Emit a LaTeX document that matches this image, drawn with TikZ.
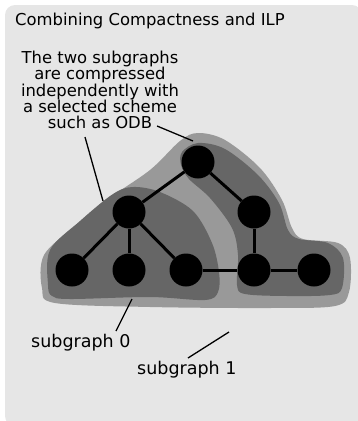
\documentclass[tikz,border=0pt]{standalone}
\usepackage{fontspec}
\setmainfont{DejaVu Sans}
\usepackage{xcolor}
\usetikzlibrary{positioning}
\definecolor{panel}{HTML}{E6E6E6}
\definecolor{hull}{HTML}{999999}
\definecolor{subfill}{HTML}{666666}

\begin{document}
\begin{tikzpicture}
  [x=1pt,y=-1pt,
   vertex/.style={circle,fill=black,inner sep=0pt,minimum size=33pt},
   edge/.style={line width=3pt},
   pointer/.style={line width=1.3pt},
   tag/.style={inner sep=0pt,font=\fontsize{17.5}{19}\selectfont}]
\useasboundingbox (0,0) rectangle (357,421);
\fill[panel,rounded corners=10pt] (5,5) rectangle (362,426);
\node[anchor=base west,inner sep=0pt,font=\fontsize{16.4}{18}\selectfont] (title) at (15,25) {Combining Compactness and ILP};
% the hull round both subgraphs
\fill[hull] plot[smooth cycle,tension=0.55] coordinates {
  (42,288) (44,255) (75,226) (105,201) (150,170) (180,141) (198,133)
  (225,140) (260,168) (282,200) (292,228) (303,239) (338,243) (350,258)
  (349,292) (335,306) (270,308) (150,307) (55,303)};
% subgraph 0
\fill[subfill] plot[smooth cycle,tension=0.55] coordinates {
  (48,285) (50,250) (80,221) (113,194) (133,187) (160,192) (193,211)
  (212,243) (219,272) (218,292) (205,300) (150,297) (70,299) (52,296)};
% subgraph 1
\fill[subfill] plot[smooth cycle,tension=0.55] coordinates {
  (182,152) (198,143) (225,149) (258,175) (279,203) (288,230) (299,239)
  (328,243) (343,258) (342,288) (330,295) (287,296) (245,294) (237,285)
  (238,255) (232,228) (210,198) (189,179) (181,165)};
% vertices
\node[vertex] (t) at (198,162) {};
\node[vertex] (l) at (129,212) {};
\node[vertex] (r) at (254,212) {};
\node[vertex] (b0) at (72,270) {};
\node[vertex] (b1) at (129,270) {};
\node[vertex] (b2) at (186,270) {};
\node[vertex] (b3) at (254,270) {};
\node[vertex] (b4) at (314,270) {};
\draw[edge] (t) -- (l);
\draw[edge] (t) -- (r);
\draw[edge] (l) -- (b0);
\draw[edge] (l) -- (b1);
\draw[edge] (l) -- (b2);
\draw[edge] (b2) -- (b3);
\draw[edge] (r) -- (b3);
\draw[edge] (b3) -- (b4);
% notes
\node[align=center,inner sep=0pt,font=\fontsize{16.4}{16.2}\selectfont] (note) at (100,90)
  {The two subgraphs\\are compressed\\independently with\\a selected scheme\\such as ODB};
\coordinate (n1) at (157,126);
\coordinate (h1) at (193,141);
\coordinate (n2) at (85,137);
\coordinate (h2) at (103,201);
\draw[pointer] (n1) -- (h1);
\draw[pointer] (n2) -- (h2);
\node[tag,anchor=base west] (sg0) at (31,347) {subgraph 0};
\node[tag,anchor=base west] (sg1) at (137,374) {subgraph 1};
\coordinate (s0) at (132,299);
\coordinate (e0) at (116,331);
\coordinate (s1) at (229,332);
\coordinate (e1) at (188,358);
\draw[pointer] (s0) -- (e0);
\draw[pointer] (s1) -- (e1);
\end{tikzpicture}
\end{document}
